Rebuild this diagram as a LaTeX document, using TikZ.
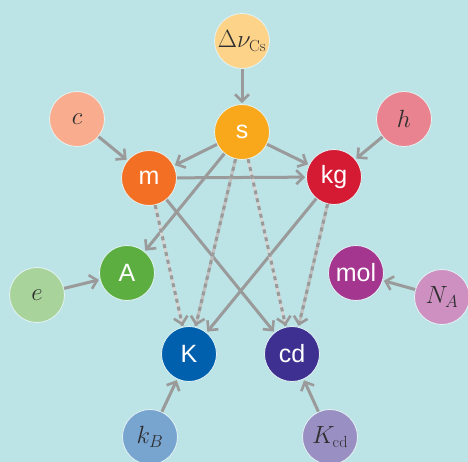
\documentclass[tikz,border=0pt]{standalone}
\usepackage{fontspec}
\setsansfont{Liberation Sans}
\usetikzlibrary{arrows.meta}
\definecolor{bg}{HTML}{BCE3E5}
\definecolor{cdnu}{HTML}{FDD38A}
\definecolor{cs}{HTML}{F9A81B}
\definecolor{cc}{HTML}{F9AC8E}
\definecolor{ch}{HTML}{E8838F}
\definecolor{cm}{HTML}{F36F23}
\definecolor{ckg}{HTML}{D51A33}
\definecolor{ce}{HTML}{A8D49B}
\definecolor{cA}{HTML}{5CAE40}
\definecolor{cmol}{HTML}{A43690}
\definecolor{cNA}{HTML}{CD90C1}
\definecolor{cK}{HTML}{0060AE}
\definecolor{ccd}{HTML}{3E3090}
\definecolor{ckB}{HTML}{78A4D0}
\definecolor{cKcd}{HTML}{9A8FC2}
\definecolor{arrgray}{HTML}{9A9A9A}
\definecolor{lightg}{HTML}{D6D6D6}
\definecolor{midg}{HTML}{C0C0C0}
\definecolor{txt}{HTML}{2E2E2E}
\begin{document}
\begin{tikzpicture}[x=1pt,y=-1pt,
  ball/.style={circle,minimum size=55pt,inner sep=0pt,draw=white!60!bg,line width=0.8pt},
  unit/.style={ball,text=white,font=\sffamily\fontsize{25}{28}\selectfont},
  const/.style={ball,text=txt,font=\fontsize{23}{25}\selectfont},
  arr/.style={draw=arrgray,line width=3pt,-{Straight Barb[length=7pt,width=14pt,line width=2.6pt,color=arrgray]},shorten >=1pt},
  dshw/.style={arr,draw=lightg,postaction={draw=arrgray,-,dash pattern=on 4pt off 4pt}},
  dshg/.style={arr,draw=midg,postaction={draw=arrgray,-,dash pattern=on 4pt off 4pt}}]
\fill[bg] (0,0) rectangle (468,462);
\useasboundingbox (0,0) rectangle (468,462);
% nodes
\node[const,fill=cdnu] (dnu) at (242,41) {$\Delta\nu_{\mathrm{Cs}}$};
\node[unit,fill=cs] (s) at (242,132) {s};
\node[const,fill=cc] (c) at (77,119) {$c$};
\node[const,fill=ch] (h) at (404,119) {$h$};
\node[unit,fill=cm] (m) at (149,178) {m};
\node[unit,fill=ckg] (kg) at (334,177) {kg};
\node[const,fill=ce] (e) at (37,295) {$e$};
\node[unit,fill=cA] (A) at (127,273) {A};
\node[unit,fill=cmol] (mol) at (356,273) {mol};
\node[const,fill=cNA] (NA) at (442,297) {$N_{A}$};
\node[unit,fill=cK] (K) at (189,354) {K};
\node[unit,fill=ccd] (cd) at (292,354) {cd};
\node[const,fill=ckB] (kB) at (150,437) {$k_{B}$};
\node[const,fill=cKcd] (Kcd) at (330,437) {$K_{\mathrm{cd}}$};
% connectors
\draw[arr] (dnu) -- (s);
\draw[arr] (c) -- (m);
\draw[arr] (h) -- (kg);
\draw[arr] (s) -- (m);
\draw[arr] (s) -- (kg);
\draw[arr] (m) -- (kg);
\draw[arr] (e) -- (A);
\draw[arr] (NA) -- (mol);
\draw[arr] (kB) -- (K);
\draw[arr] (Kcd) -- (cd);
\draw[arr] (s) -- (A);
\draw[arr] (m) -- (cd);
\draw[arr] (kg) -- (K);
\draw[dshg] (s) -- (K);
\draw[dshg] (kg) -- (cd);
\draw[dshw] (m) -- (K);
\draw[dshw] (s) -- (cd);
\end{tikzpicture}
\end{document}
